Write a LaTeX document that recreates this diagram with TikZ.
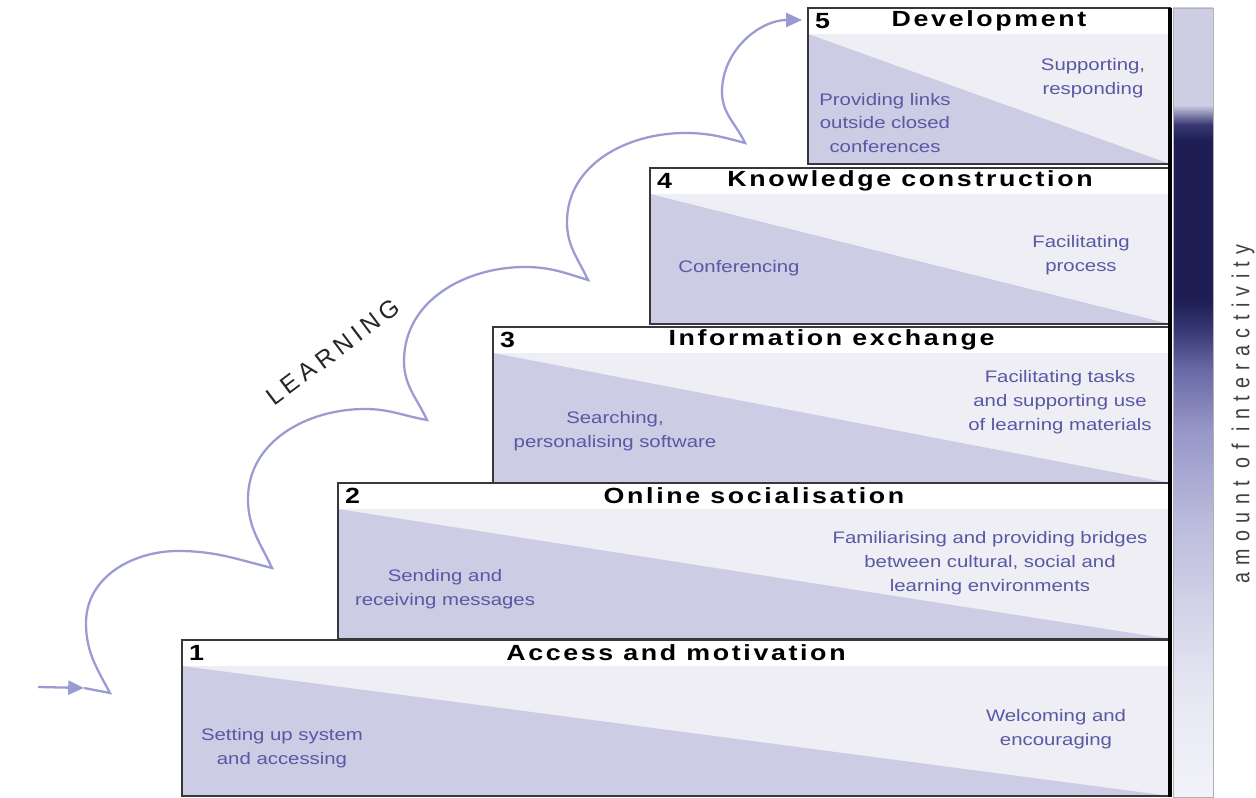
\documentclass[tikz,border=0pt]{standalone}
\usepackage{fontspec}
\setmainfont{Liberation Sans}
\newfontfamily\widefont{Liberation Sans}[FakeStretch=1.22]
\newfontfamily\narrowfont{Liberation Sans}[FakeStretch=0.8]
\usetikzlibrary{arrows.meta}

\definecolor{stepdark}{RGB}{204,204,228}
\definecolor{steplight}{RGB}{238,238,244}
\definecolor{stepline}{RGB}{55,55,60}
\definecolor{labelblue}{RGB}{88,88,165}
\definecolor{pathblue}{RGB}{155,155,212}
\definecolor{barA}{RGB}{242,242,248}
\definecolor{barB}{RGB}{232,232,244}
\definecolor{barC}{RGB}{214,214,234}
\definecolor{barD}{RGB}{186,186,220}
\definecolor{barE}{RGB}{150,150,200}
\definecolor{barF}{RGB}{105,105,165}
\definecolor{barG}{RGB}{55,55,115}
\definecolor{barH}{RGB}{30,30,85}
\definecolor{barJ}{RGB}{205,205,228}
\pgfdeclareverticalshading{interact}{100bp}{color(0bp)=(barA); color(25bp)=(barA);
  color(31.1bp)=(barB); color(36.2bp)=(barC); color(42.6bp)=(barD); color(48.3bp)=(barE);
  color(52.1bp)=(barF); color(54.6bp)=(barG); color(56.5bp)=(barH); color(66.6bp)=(barH);
  color(67.6bp)=(barG); color(68.85bp)=(barJ); color(100bp)=(barJ)}

\tikzset{
  stephead/.style={font=\widefont\bfseries\fontsize{12.5}{14}\selectfont\addfontfeatures{LetterSpace=12}},
  stepnum/.style={anchor=west, font=\widefont\bfseries\fontsize{12.5}{14}\selectfont},
  task/.style={align=center, text=labelblue, font=\widefont\fontsize{9.5}{13.6}\selectfont},
  learnpath/.style={pathblue, line width=1.3pt},
  pathtip/.style={-{Triangle[length=9pt,width=8pt]}}
}

\begin{document}
\begin{tikzpicture}[x=0.02cm,y=0.02cm]
  \useasboundingbox (0,0) rectangle (1256,797);
  \shade[shading=interact] (1173,0) rectangle (1213,789);
  \draw[gray!60, line width=0.5pt] (1173,0) rectangle (1213,789);
  \foreach \i/\l/\b/\steptitle in {1/182/1/Access and motivation,2/338/158/Online socialisation,
      3/493/314/Information exchange,4/650/473/Knowledge construction,5/808/633/Development}{
    \fill[steplight] (\l,\b) rectangle (1170,\b+130);
    \fill[stepdark] (\l,\b+130) -- (1170,\b) -- (\l,\b) -- cycle;
    \fill[white] (\l,\b+130) rectangle (1170,\b+156);
    \draw[stepline, line width=1pt] (\l,\b) rectangle (1170,\b+156);
    \node[stepnum] (n\i) at (\l+1,\b+143) {\i};
    \node[stephead] (h\i) at ({(\l+1170)/2},\b+143) {\steptitle};
  }
  \draw[line width=2.4pt] (1170,0) -- (1170,789);

  \node[task] (s1l) at (282,49) {Setting up system\\and accessing};
  \node[task] (s1r) at (1056,68) {Welcoming and\\encouraging};
  \node[task] (s2l) at (445,208) {Sending and\\receiving messages};
  \node[task] (s2r) at (990,234) {Familiarising and providing bridges\\between cultural, social and\\learning environments};
  \node[task] (s3l) at (615,366) {Searching,\\personalising software};
  \node[task] (s3r) at (1060,395) {Facilitating tasks\\and supporting use\\of learning materials};
  \node[task] (s4l) at (739,529) {Conferencing};
  \node[task] (s4r) at (1081,542) {Facilitating\\process};
  \node[task] (s5l) at (885,674) {Providing links\\outside closed\\conferences};
  \node[task] (s5r) at (1093,719) {Supporting,\\responding};

  \node[rotate=90, text=black!75, font=\narrowfont\fontsize{14}{16}\selectfont\addfontfeatures{LetterSpace=30}] (amount) at (1243,383) {amount of interactivity};
  \node[rotate=37, text=black!85, font=\fontsize{14}{16}\selectfont\addfontfeatures{LetterSpace=20}] (learning) at (333,445) {LEARNING};

  \coordinate (start) at (38,110);
  \coordinate (tip) at (84,109);
  \coordinate (c1) at (110,104);
  \coordinate (c2) at (272,229);
  \coordinate (c3) at (427,377);
  \coordinate (c4) at (588,517);
  \coordinate (c5) at (745,654);
  \coordinate (goal) at (802,777);
  \draw[learnpath, pathtip] (start) -- (tip);
  \draw[learnpath, pathtip] (tip) -- (c1)
    to[out=118,in=-90] (86,174) to[out=90,in=180] (178,246) to[out=0,in=166] (c2)
    to[out=115,in=-90] (248,298) to[out=90,in=180] (365,388) to[out=0,in=170] (c3)
    to[out=115,in=-90] (404,436) to[out=90,in=180] (525,530) to[out=0,in=163] (c4)
    to[out=115,in=-90] (567,575) to[out=90,in=180] (685,664) to[out=0,in=165] (c5)
    to[out=115,in=-90] (722,705) to[out=90,in=180] (goal);
\end{tikzpicture}
\end{document}
